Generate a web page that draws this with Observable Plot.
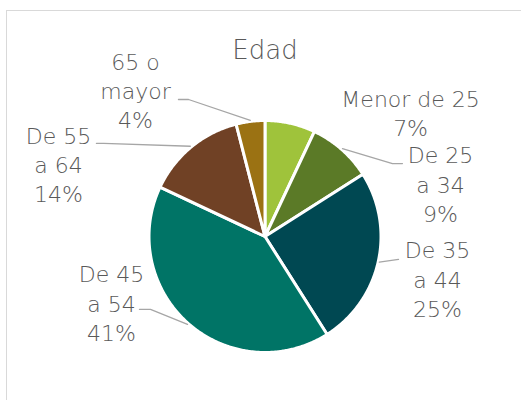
<!DOCTYPE html>
<html><head><meta charset="utf-8">
<script src="https://cdn.jsdelivr.net/npm/d3@7"></script>
<script src="https://cdn.jsdelivr.net/npm/@observablehq/plot@0.6"></script>
<style>
body{margin:0;background:#fff}
#frame{position:absolute;left:6px;top:10px;width:600px;height:500px;border:1.5px solid #d9d9d9;pointer-events:none}
</style>
</head><body><div id="chart"></div><div id="frame"></div>
<script>
// ---- data ----
const title = "Edad";
const categories = ["Menor de 25", "De 25 a 34", "De 35 a 44", "De 45 a 54", "De 55 a 64", "65 o mayor"];
const values = [7, 9, 25, 41, 14, 4];
const labelTexts = ["Menor de 25", "De 25\na 34", "De 35\na 44", "De 45\na 54", "De 55\na 64", "65 o\nmayor"];
const colors = ["#9fc33b", "#5b7a27", "#004852", "#007466", "#704125", "#9b7213"];

// ---- layout (data units; pie radius = 1) ----
const labelPos = [[1.255, 1.301], [1.513, 0.810], [1.487, -0.009], [-1.323, -0.216], [-1.780, 0.982], [-1.116, 1.620]];
const leaderElbows = [null, [[1.185, 0.629], [1.099, 0.629]], [[1.151, -0.198]], [[-1.082, -0.629], [-0.987, -0.629]], [[-1.453, 0.802], [-1.392, 0.802]], [[-0.746, 1.181], [-0.659, 1.181]]];
const cx = 264.5, cy = 236, r = 116;

const total = d3.sum(values);
let acc = 0;
const slices = values.map((v, i) => {
  const a0 = acc / total * 2 * Math.PI; acc += v;
  const a1 = acc / total * 2 * Math.PI;
  return {cat: categories[i], v, a0, a1, mid: (a0 + a1) / 2};
});
const slicePts = [];
for (const s of slices) {
  slicePts.push({cat: s.cat, x: 0, y: 0});
  const n = Math.max(2, Math.ceil((s.a1 - s.a0) / (Math.PI / 360)));
  for (let k = 0; k <= n; k++) {
    const a = s.a0 + (s.a1 - s.a0) * k / n;
    slicePts.push({cat: s.cat, x: Math.sin(a), y: Math.cos(a)});
  }
  slicePts.push({cat: s.cat, x: 0, y: 0});
}
const leaderPts = [];
slices.forEach((s, i) => {
  if (!leaderElbows[i]) return;
  for (const [x, y] of leaderElbows[i]) leaderPts.push({cat: s.cat, x, y});
  leaderPts.push({cat: s.cat, x: 1.01 * Math.sin(s.mid), y: 1.01 * Math.cos(s.mid)});
});
const labels = slices.map((s, i) => ({cat: s.cat, x: labelPos[i][0], y: labelPos[i][1], text: labelTexts[i] + "\n" + s.v + "%"}));

const font = "DejaVu Sans";
const chart = Plot.plot({
  width: 521, height: 400,
  style: {background: "transparent", fontFamily: font},
  x: {domain: [-1, 1], range: [cx - r, cx + r], axis: null},
  y: {domain: [-1, 1], range: [cy + r, cy - r], axis: null},
  color: {domain: categories, range: colors},
  marks: [
    Plot.line(slicePts, {x: "x", y: "y", z: "cat", fill: "cat", stroke: "white", strokeWidth: 3, strokeLinejoin: "round", curve: "linear"}),
    Plot.line(leaderPts, {x: "x", y: "y", z: "cat", stroke: "#a6a6a6", strokeWidth: 1.3, curve: "linear"}),
    Plot.text(labels, {x: "x", y: "y", text: "text", lineAnchor: "top", textAnchor: "middle", fontSize: 22, lineHeight: 1.34, fill: "#595959", fontWeight: 200, fontFamily: font}),
    Plot.text([title], {x: () => 0, y: () => 1.69, text: d => d, lineAnchor: "top", textAnchor: "middle", fontSize: 26, fill: "#595959", fontWeight: 200, fontFamily: font})
  ]
});
document.getElementById("chart").appendChild(chart);
</script>
</body></html>
